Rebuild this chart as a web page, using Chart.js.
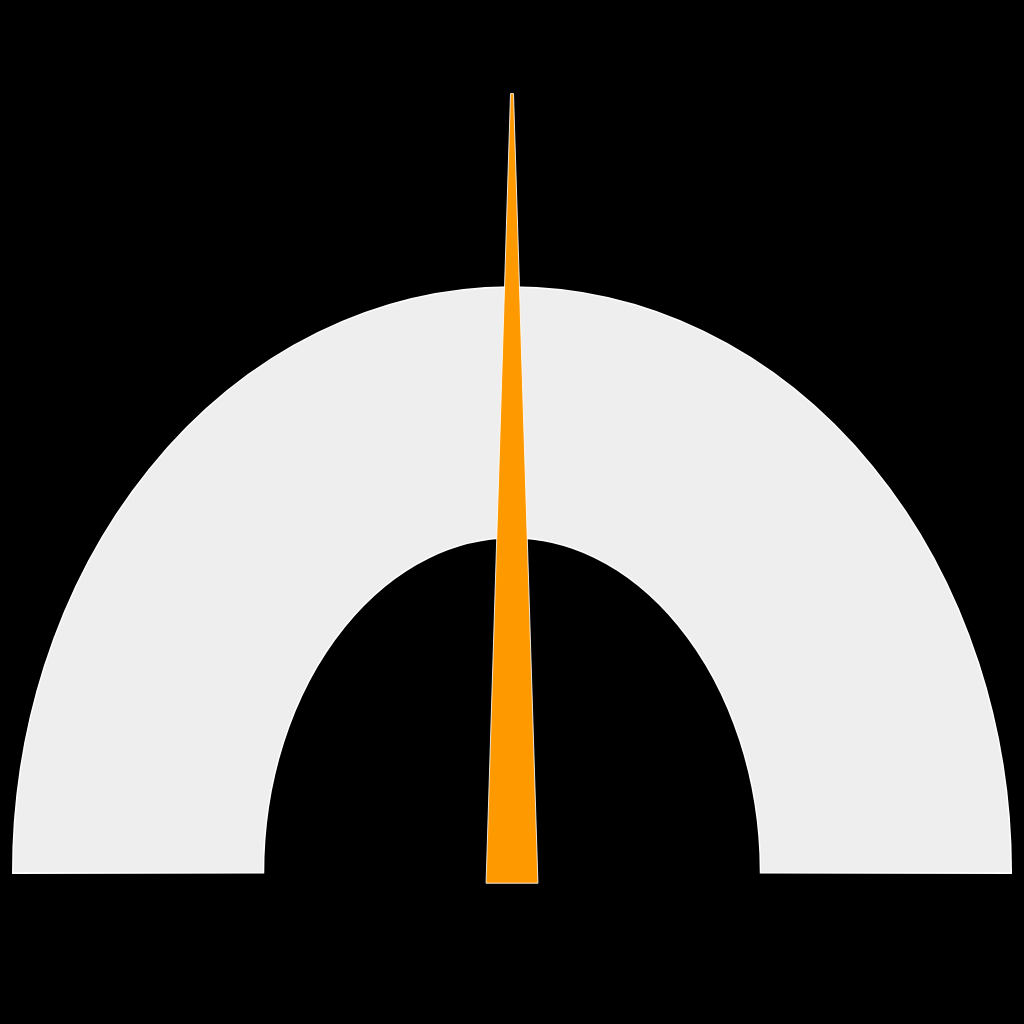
<!DOCTYPE html>
<html>
<head>
<meta charset="utf-8">
<script src="https://cdn.jsdelivr.net/npm/chart.js@4"></script>
<style>
  html, body { margin: 0; padding: 0; background: #000; overflow: hidden; }
  #wrap { width: 1024px; height: 1024px; }
</style>
</head>
<body>
<div id="wrap"><canvas id="gauge"></canvas></div>
<script>
const bandLabels = ["Range"];
const bandValues = [100];
const gaugeRange = [0, 100];
const needleValue = 50;

// the band is taller than it is wide: keep the doughnut geometry from Chart.js
// but stroke each arc along an ellipse so the band keeps an even thickness
const bandStretch = 1.23;

const ellipseBandPlugin = {
  id: "ellipseBand",
  beforeDatasetDraw(chart, args) {
    const ctx = chart.ctx;
    args.meta.data.forEach((arc) => {
      const p = arc.getProps(["x", "y", "startAngle", "endAngle", "innerRadius", "outerRadius"], true);
      const o = arc.options;
      const mid = (p.innerRadius + p.outerRadius) / 2;
      const thick = p.outerRadius - p.innerRadius;
      const ry = mid * bandStretch;
      const ext = o.borderWidth / ry;
      ctx.save();
      ctx.lineCap = "butt";
      ctx.beginPath();
      ctx.ellipse(p.x, p.y, mid, ry, 0, p.startAngle - ext, p.endAngle + ext);
      ctx.lineWidth = thick + o.borderWidth * 2;
      ctx.strokeStyle = o.borderColor;
      ctx.stroke();
      ctx.beginPath();
      ctx.ellipse(p.x, p.y, mid, ry, 0, p.startAngle, p.endAngle);
      ctx.lineWidth = thick;
      ctx.strokeStyle = o.backgroundColor;
      ctx.stroke();
      ctx.restore();
    });
    return false;
  }
};

// needle drawn on top, angle taken from the arc elements
const needlePlugin = {
  id: "needle",
  afterDatasetsDraw(chart) {
    const arcs = chart.getDatasetMeta(0).data;
    const first = arcs[0].getProps(["x", "y", "outerRadius", "startAngle"], true);
    const last = arcs[arcs.length - 1].getProps(["endAngle"], true);
    const t = (needleValue - gaugeRange[0]) / (gaugeRange[1] - gaugeRange[0]);
    const angle = first.startAngle + t * (last.endAngle - first.startAngle);
    const r = first.outerRadius;
    const len = r * 1.562, baseHalf = r * 0.052, back = r * 0.022, tipHalf = 1.5;
    const ctx = chart.ctx;
    ctx.save();
    ctx.translate(first.x, first.y);
    ctx.rotate(angle);
    ctx.beginPath();
    ctx.moveTo(-back, -baseHalf);
    ctx.lineTo(len, -tipHalf);
    ctx.lineTo(len, tipHalf);
    ctx.lineTo(-back, baseHalf);
    ctx.closePath();
    ctx.fillStyle = "#ff9900";
    ctx.fill();
    ctx.lineWidth = 1;
    ctx.strokeStyle = "rgba(255,255,255,0.85)";
    ctx.stroke();
    ctx.restore();
  }
};

new Chart(document.getElementById("gauge"), {
  type: "doughnut",
  data: {
    labels: bandLabels,
    datasets: [
      {
        data: bandValues,
        backgroundColor: ["#eeeeee"],
        borderColor: "#ffffff",
        borderWidth: 1.5,
        clip: false,
      },
    ],
  },
  options: {
    responsive: true,
    maintainAspectRatio: false,
    animation: false,
    rotation: -90,
    circumference: 180,
    cutout: "50%",
    layout: { padding: { left: 12, right: 12, top: 373, bottom: 151 } },
    events: [],
    plugins: {
      legend: { display: false },
      tooltip: { enabled: false },
    },
  },
  plugins: [ellipseBandPlugin, needlePlugin],
});
</script>
</body>
</html>
